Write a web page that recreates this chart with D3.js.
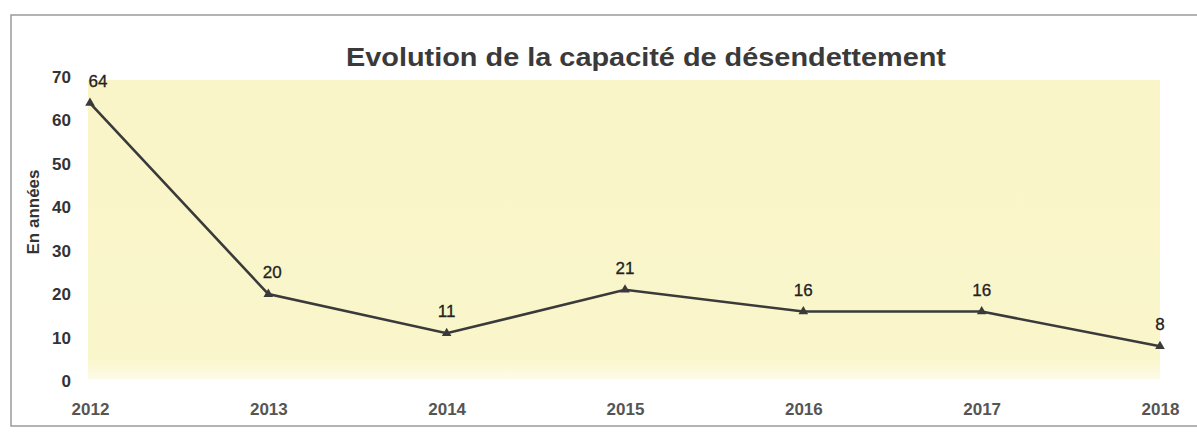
<!DOCTYPE html>
<html><head><meta charset="utf-8">
<script src="https://cdn.jsdelivr.net/npm/d3@7"></script>
<style>
html,body{margin:0;padding:0;background:#fff;}
svg{display:block;font-family:"Liberation Sans",Arial,sans-serif;}
</style></head>
<body><svg id="c" width="1197" height="432"></svg>
<script>
const years = ["2012","2013","2014","2015","2016","2017","2018"];
const values = [64, 20, 11, 21, 16, 16, 8];
const yTicks = [0,10,20,30,40,50,60,70];
const title = "Evolution de la capacité de désendettement";
const yTitle = "En années";

const svg = d3.select("#c");
const W = 1197, H = 432;
const m = {left: 90, right: 37, top: 78, bottom: 51};

// frame
svg.append("rect").attr("x",11).attr("y",15).attr("width",W+20).attr("height",411)
  .attr("fill","none").attr("stroke","#9a9a9a").attr("stroke-width",1.5);

// plot background gradient (fades at bottom)
const defs = svg.append("defs");
const g = defs.append("linearGradient").attr("id","bg").attr("x1",0).attr("y1",0).attr("x2",0).attr("y2",1);
g.append("stop").attr("offset","0%").attr("stop-color","#f9f5c8");
g.append("stop").attr("offset","93%").attr("stop-color","#faf6cb");
g.append("stop").attr("offset","100%").attr("stop-color","#fdfbe8");

const x = d3.scalePoint().domain(years).range([m.left, W - m.right]);
const y = d3.scaleLinear().domain([0,70]).range([H - m.bottom, m.top - 1]);

svg.append("rect").attr("x", m.left - 2).attr("y", m.top + 2)
  .attr("width", (W - m.right) - (m.left - 2)).attr("height", y(0) - (m.top + 2) - 2)
  .attr("fill","url(#bg)");

// y axis
const ya = svg.append("g").attr("transform",`translate(${m.left-19},0)`)
  .call(d3.axisLeft(y).tickValues(yTicks).tickSize(0).tickPadding(0));
ya.select(".domain").remove();
ya.selectAll("text").attr("font-size",17).attr("fill","#333").attr("font-weight","bold")
  .attr("font-family","'Liberation Sans',Arial,sans-serif");

// x axis
const xa = svg.append("g").attr("transform",`translate(0,${y(0)+22})`)
  .call(d3.axisBottom(x).tickSize(0).tickPadding(0));
xa.select(".domain").remove();
xa.selectAll("text").attr("font-size",17).attr("fill","#555").attr("font-weight","bold")
  .attr("font-family","'Liberation Sans',Arial,sans-serif");

// titles
svg.append("text").attr("x",646).attr("y",66).attr("text-anchor","middle")
  .attr("font-size",26).attr("font-weight","bold").attr("fill","#3a3a3a")
  .attr("textLength",600).attr("lengthAdjust","spacingAndGlyphs").text(title);
svg.append("text").attr("transform",`translate(39,${212}) rotate(-90)`).attr("text-anchor","middle")
  .attr("font-size",17).attr("font-weight","bold").attr("fill","#333").text(yTitle);

// line
const data = years.map((d,i)=>({year:d, v:values[i]}));
svg.append("path").datum(data)
  .attr("fill","none").attr("stroke","#3a3a3a").attr("stroke-width",2.6)
  .attr("d", d3.line().x(d=>x(d.year)).y(d=>y(d.v)));

svg.selectAll(".mk").data(data).join("path").attr("class","mk")
  .attr("transform", d=>`translate(${x(d.year)},${y(d.v)})`)
  .attr("d", d3.symbol(d3.symbolTriangle, 40)).attr("fill","#3a3a3a");

svg.selectAll(".lb").data(data).join("text").attr("class","lb")
  .attr("x", d=>x(d.year) + (d.year==="2012"?8:(d.year==="2013"?4:0)))
  .attr("y", d=>y(d.v) - 16)
  .attr("text-anchor","middle").attr("font-size",17).attr("fill","#222")
  .attr("stroke","#222").attr("stroke-width",0.3)
  .text(d=>d.v);
</script></body></html>
